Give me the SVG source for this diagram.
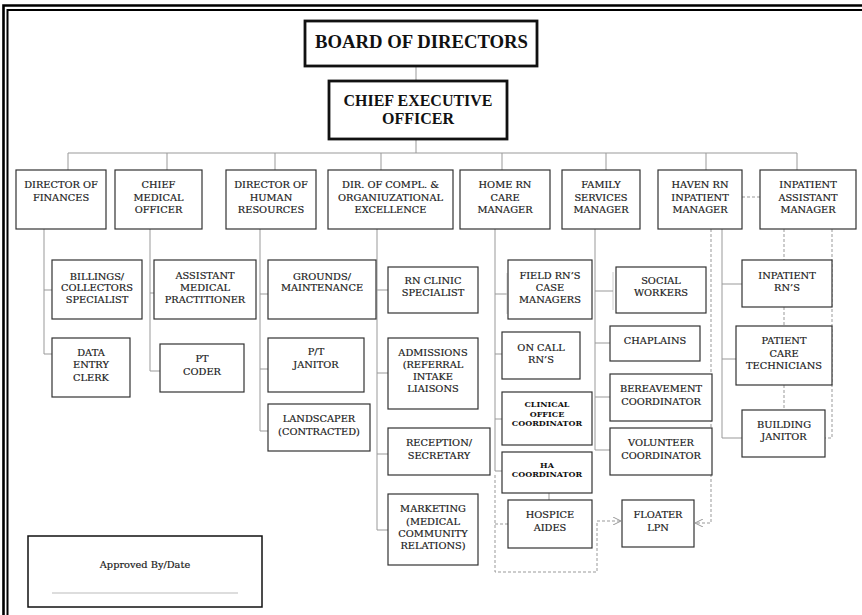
<svg xmlns="http://www.w3.org/2000/svg" width="862" height="615" viewBox="0 0 862 615">
<style>
.box{fill:#fff;stroke:#333;stroke-width:1.2}
.tbox{fill:#fff;stroke:#111;stroke-width:2.8}
.t{font-family:"DejaVu Serif",serif;font-size:9.8px;fill:#1a1a1a;stroke:#1a1a1a;stroke-width:0.2;text-anchor:middle}
.tb{font-family:"DejaVu Serif",serif;font-size:8px;font-weight:bold;fill:#111;text-anchor:middle}
.big{font-family:"Liberation Serif",serif;font-weight:bold;fill:#111;text-anchor:middle}
.ln{stroke:#999;stroke-width:1;fill:none}
.br{stroke:#ccc;stroke-width:1;fill:none}
.dash{stroke:#999;stroke-width:1;stroke-dasharray:3 2;fill:none}
.frame{stroke:#000;fill:none}
</style>
<defs>
<marker id="arr" viewBox="0 0 8 8" refX="8" refY="4" markerWidth="8" markerHeight="8" markerUnits="userSpaceOnUse" orient="auto">
<path d="M0,0 L8,4 L0,8" fill="none" stroke="#999" stroke-width="1"/>
</marker>
</defs>
<rect width="862" height="615" fill="#fff"/>
<g id="frame">
<path class="frame" d="M3.5 615 V5.5 H862" stroke-width="2.6"/>
<path class="frame" d="M7.5 615 V10 H862" stroke-width="2"/>
</g>
<g id="connectors">
<path class="ln" d="M416 66 V81 M416 139 V153 M68 153 H797 M68 153 V170 M167 153 V170 M275 153 V170 M381 153 V170 M502 153 V170 M606 153 V170 M706 153 V170 M797 153 V170"/>
<path class="ln" d="M44 229 V354 H52 M44 290 H52"/>
<path class="ln" d="M150 229 V371 H160 M150 293 H154"/>
<path class="ln" d="M260 229 V431 H268 M260 294 H268 M260 369 H268"/>
<path class="ln" d="M377 229 V530 H388 M377 290 H388 M377 373 H388 M377 454 H388"/>
<path class="ln" d="M495 229 V471 H502 M495 294 H507 M495 354 H502 M495 419 H502 M549 493 V500"/>
<path class="br" d="M507 273 V314 M613 272 V310"/>
<path class="ln" d="M595 229 V450 H610 M595 291 H613 M595 343 H610 M595 397 H610"/>
<path class="ln" d="M722 229 V438 H742 M722 284 H742 M722 359 H736"/>
<path class="dash" d="M742 197 H760"/>
<path class="dash" d="M711 229 V523 H695" marker-end="url(#arr)"/>
<path class="dash" d="M784 229 V260 M784 307 V326 M784 385 V410"/>
<path class="dash" d="M832 229 V438 H825"/>
<path class="dash" d="M495 475 V572 H597 V521 H621" marker-end="url(#arr)"/>
<path class="dash" d="M495 524 H508"/>
</g>
<g id="board"><rect class="tbox" x="305" y="21" width="232" height="45"/><text class="big" x="421.5" y="48" font-size="19.5" textLength="213" lengthAdjust="spacingAndGlyphs">BOARD OF DIRECTORS</text></g>
<g id="ceo"><rect class="tbox" x="329" y="81" width="178" height="58"/><text class="big" x="418" y="106" font-size="17" textLength="149" lengthAdjust="spacingAndGlyphs">CHIEF EXECUTIVE</text><text class="big" x="418" y="123.5" font-size="17" textLength="72" lengthAdjust="spacingAndGlyphs">OFFICER</text></g>
<g id="fin"><rect class="box" x="16" y="170" width="90" height="59"/><text class="t" x="61" y="188">DIRECTOR OF</text><text class="t" x="61" y="200.5">FINANCES</text></g>
<g id="cmo"><rect class="box" x="115" y="170" width="87" height="59"/><text class="t" x="158.5" y="188">CHIEF</text><text class="t" x="158.5" y="200.5">MEDICAL</text><text class="t" x="158.5" y="213">OFFICER</text></g>
<g id="dhr"><rect class="box" x="226" y="170" width="90" height="59"/><text class="t" x="271" y="188">DIRECTOR OF</text><text class="t" x="271" y="200.5">HUMAN</text><text class="t" x="271" y="213">RESOURCES</text></g>
<g id="dir"><rect class="box" x="328" y="170" width="125" height="59"/><text class="t" x="390.5" y="188">DIR. OF COMPL. &amp;</text><text class="t" x="390.5" y="200.5">ORGANIUZATIONAL</text><text class="t" x="390.5" y="213">EXCELLENCE</text></g>
<g id="home"><rect class="box" x="460" y="170" width="90" height="59"/><text class="t" x="505" y="188">HOME RN</text><text class="t" x="505" y="200.5">CARE</text><text class="t" x="505" y="213">MANAGER</text></g>
<g id="fam"><rect class="box" x="562" y="170" width="78" height="59"/><text class="t" x="601" y="188">FAMILY</text><text class="t" x="601" y="200.5">SERVICES</text><text class="t" x="601" y="213">MANAGER</text></g>
<g id="haven"><rect class="box" x="658" y="170" width="84" height="59"/><text class="t" x="700" y="188">HAVEN RN</text><text class="t" x="700" y="200.5">INPATIENT</text><text class="t" x="700" y="213">MANAGER</text></g>
<g id="inpa"><rect class="box" x="760" y="170" width="96" height="59"/><text class="t" x="808" y="188">INPATIENT</text><text class="t" x="808" y="200.5">ASSISTANT</text><text class="t" x="808" y="213">MANAGER</text></g>
<g id="billings"><rect class="box" x="52" y="260" width="90" height="59"/><text class="t" x="97" y="279.5">BILLINGS/</text><text class="t" x="97" y="291.2">COLLECTORS</text><text class="t" x="97" y="302.8">SPECIALIST</text></g>
<g id="dataentry"><rect class="box" x="52" y="338" width="78" height="59"/><text class="t" x="91" y="356.2">DATA</text><text class="t" x="91" y="367.8">ENTRY</text><text class="t" x="91" y="380.8">CLERK</text></g>
<g id="asst"><rect class="box" x="154" y="260" width="102" height="59"/><text class="t" x="205" y="279.2">ASSISTANT</text><text class="t" x="205" y="291.2">MEDICAL</text><text class="t" x="205" y="302.8">PRACTITIONER</text></g>
<g id="ptcoder"><rect class="box" x="160" y="344" width="84" height="48"/><text class="t" x="202" y="361.8">PT</text><text class="t" x="202" y="374.5">CODER</text></g>
<g id="grounds"><rect class="box" x="268" y="260" width="108" height="59"/><text class="t" x="322" y="279.5">GROUNDS/</text><text class="t" x="322" y="290.8">MAINTENANCE</text></g>
<g id="ptjanitor"><rect class="box" x="268" y="338" width="96" height="54"/><text class="t" x="316" y="355.2">P/T</text><text class="t" x="316" y="367.5">JANITOR</text></g>
<g id="landscaper"><rect class="box" x="268" y="404" width="102" height="47"/><text class="t" x="319" y="421.8">LANDSCAPER</text><text class="t" x="319" y="435.2">(CONTRACTED)</text></g>
<g id="rnclinic"><rect class="box" x="388" y="267" width="90" height="46"/><text class="t" x="433" y="284.2">RN CLINIC</text><text class="t" x="433" y="295.5">SPECIALIST</text></g>
<g id="admissions"><rect class="box" x="388" y="338" width="90" height="71"/><text class="t" x="433" y="356.2">ADMISSIONS</text><text class="t" x="433" y="368.2">(REFERRAL</text><text class="t" x="433" y="380.2">INTAKE</text><text class="t" x="433" y="391.8">LIAISONS</text></g>
<g id="reception"><rect class="box" x="388" y="428" width="102" height="47"/><text class="t" x="439" y="445.8">RECEPTION/</text><text class="t" x="439" y="458.5">SECRETARY</text></g>
<g id="marketing"><rect class="box" x="388" y="494" width="90" height="71"/><text class="t" x="433" y="511.8">MARKETING</text><text class="t" x="433" y="524.8">(MEDICAL</text><text class="t" x="433" y="536.8">COMMUNITY</text><text class="t" x="433" y="548.8">RELATIONS)</text></g>
<g id="field"><rect class="box" x="508" y="260" width="84" height="59"/><text class="t" x="550" y="279.2">FIELD RN’S</text><text class="t" x="550" y="290.8">CASE</text><text class="t" x="550" y="302.8">MANAGERS</text></g>
<g id="oncall"><rect class="box" x="502" y="332" width="78" height="47"/><text class="t" x="541" y="350.8">ON CALL</text><text class="t" x="541" y="362.8">RN’S</text></g>
<g id="clinical"><rect class="box" x="502" y="392" width="90" height="53"/><text class="tb" x="547" y="407.2">CLINICAL</text><text class="tb" x="547" y="416.9">OFFICE</text><text class="tb" x="547" y="425.9">COORDINATOR</text></g>
<g id="ha"><rect class="box" x="502" y="452" width="90" height="41"/><text class="tb" x="547" y="468.2">HA</text><text class="tb" x="547" y="477.2">COORDINATOR</text></g>
<g id="hospice"><rect class="box" x="508" y="500" width="84" height="48"/><text class="t" x="550" y="517.8">HOSPICE</text><text class="t" x="550" y="530.5">AIDES</text></g>
<g id="floater"><rect class="box" x="622" y="500" width="72" height="47"/><text class="t" x="658" y="517.8">FLOATER</text><text class="t" x="658" y="530.5">LPN</text></g>
<g id="social"><rect class="box" x="616" y="267" width="90" height="46"/><text class="t" x="661" y="283.5">SOCIAL</text><text class="t" x="661" y="295.8">WORKERS</text></g>
<g id="chaplains"><rect class="box" x="610" y="326" width="90" height="35"/><text class="t" x="655" y="343.8">CHAPLAINS</text></g>
<g id="bereavement"><rect class="box" x="610" y="374" width="102" height="47"/><text class="t" x="661" y="391.8">BEREAVEMENT</text><text class="t" x="661" y="404.5">COORDINATOR</text></g>
<g id="volunteer"><rect class="box" x="610" y="428" width="102" height="47"/><text class="t" x="661" y="445.8">VOLUNTEER</text><text class="t" x="661" y="458.5">COORDINATOR</text></g>
<g id="inprn"><rect class="box" x="742" y="260" width="90" height="47"/><text class="t" x="787" y="279.2">INPATIENT</text><text class="t" x="787" y="291.2">RN’S</text></g>
<g id="pct"><rect class="box" x="736" y="326" width="96" height="59"/><text class="t" x="784" y="343.8">PATIENT</text><text class="t" x="784" y="356.8">CARE</text><text class="t" x="784" y="368.5">TECHNICIANS</text></g>
<g id="bjanitor"><rect class="box" x="742" y="410" width="83" height="47"/><text class="t" x="784" y="427.8">BUILDING</text><text class="t" x="784" y="439.8">JANITOR</text></g>
<g id="approved"><rect x="28" y="536" width="234" height="71" fill="#fff" stroke="#111" stroke-width="1.5"/><text class="t" x="145" y="567.5" font-size="9.6">Approved By/Date</text><line x1="52" y1="593" x2="238" y2="593" stroke="#aaa" stroke-width="0.8"/></g>
</svg>
